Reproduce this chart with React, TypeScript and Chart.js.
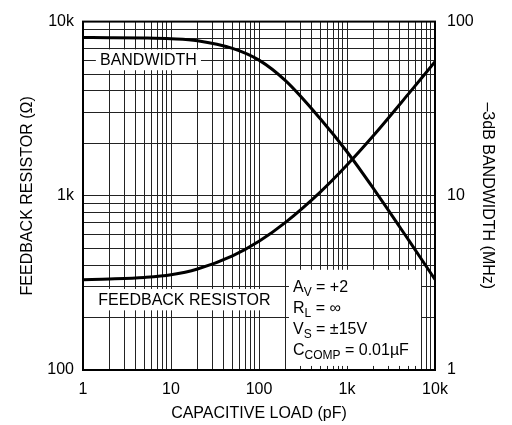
import React, { useEffect, useRef } from "react";
import { Chart, registerables } from "chart.js";

Chart.register(...registerables);

// ---- data ----
const capLoad = [1, 2, 5, 10, 20, 50, 100, 200, 500, 1000, 2000, 5000, 10000];
const feedbackRes = [330, 333, 340, 352, 380, 452, 548, 704, 1054, 1502, 2217, 3847, 5882];
const bandwidthMHz = [81, 80.9, 80.5, 79.7, 77.7, 70.2, 60.1, 45.8, 27.6, 17.9, 11.0, 5.58, 3.31];

const xTickValues = [1, 2, 3, 4, 5, 6, 7, 8, 9, 10, 20, 30, 40, 50, 60, 70, 80, 90, 100, 200, 300, 400, 500, 600, 700, 800, 900, 1000, 2000, 3000, 4000, 5000, 6000, 7000, 8000, 9000, 10000];
const xTickLabels: Record<number, string> = { 1: "1", 10: "10", 100: "100", 1000: "1k", 10000: "10k" };
const yTickValues = [100, 200, 300, 400, 500, 600, 700, 800, 900, 1000, 2000, 3000, 4000, 5000, 6000, 7000, 8000, 9000, 10000];
const yTickLabels: Record<number, string> = { 100: "100", 1000: "1k", 10000: "10k" };
const y2TickValues = [1, 10, 100];
const y2TickLabels: Record<number, string> = { 1: "1", 10: "10", 100: "100" };

const FONT = "'Liberation Sans', Arial, sans-serif";

const annotationPlugin = {
  id: "annot",
  beforeDatasetsDraw(chart: any) {
    const { ctx, scales } = chart;
    const xs = scales.x;
    const ys = scales.y;
    const px = (v: number) => xs.getPixelForValue(v);
    const py = (v: number) => ys.getPixelForValue(v);
    ctx.save();
    ctx.fillStyle = "#fff";
    // BANDWIDTH label box
    ctx.fillRect(px(1.4), py(6925), px(21.9) - px(1.4), py(5257) - py(6925));
    // FEEDBACK RESISTOR label box
    ctx.fillRect(px(1.44), py(292), px(140) - px(1.44), py(220) - py(292));
    // conditions box
    ctx.fillRect(px(219), py(376), px(6935) - px(219), py(105.5) - py(376));

    ctx.fillStyle = "#000";
    ctx.font = `16px ${FONT}`;
    ctx.textBaseline = "middle";
    ctx.textAlign = "center";
    ctx.fillText("BANDWIDTH", (px(1.4) + px(21.9)) / 2, (py(6925) + py(5257)) / 2 + 1);
    ctx.fillText("FEEDBACK RESISTOR", (px(1.44) + px(140)) / 2, (py(292) + py(220)) / 2 + 1);

    ctx.textAlign = "left";
    ctx.textBaseline = "alphabetic";
    const lx = px(219) + 4;
    const lines: [string, string, string][] = [
      ["A", "V", " = +2"],
      ["R", "L", " = \u221E"],
      ["V", "S", " = \u00B115V"],
      ["C", "COMP", " = 0.01\u00B5F"],
    ];
    let by = py(376) + 22;
    for (const [a, sub, rest] of lines) {
      ctx.font = `16px ${FONT}`;
      ctx.fillText(a, lx, by);
      let x = lx + ctx.measureText(a).width;
      ctx.font = `12px ${FONT}`;
      ctx.fillText(sub, x, by + 4);
      x += ctx.measureText(sub).width;
      ctx.font = `16px ${FONT}`;
      ctx.fillText(rest, x, by);
      by += 21;
    }
    ctx.restore();
  },
  afterDraw(chart: any) {
    const { ctx, chartArea } = chart;
    ctx.save();
    ctx.strokeStyle = "#000";
    ctx.lineWidth = 2;
    ctx.strokeRect(chartArea.left, chartArea.top, chartArea.right - chartArea.left, chartArea.bottom - chartArea.top);
    ctx.restore();
  },
};

export default function App() {
  const ref = useRef<HTMLCanvasElement | null>(null);
  useEffect(() => {
    if (!ref.current) return;
    Chart.defaults.color = "#000";
    const chart = new Chart(ref.current, {
      type: "line",
      data: {
        datasets: [
          {
            label: "Feedback Resistor",
            data: capLoad.map((x, i) => ({ x, y: feedbackRes[i] })),
            yAxisID: "y",
            borderColor: "#000",
            borderWidth: 3,
            pointRadius: 0,
            cubicInterpolationMode: "monotone",
          },
          {
            label: "Bandwidth",
            data: capLoad.map((x, i) => ({ x, y: bandwidthMHz[i] })),
            yAxisID: "y2",
            borderColor: "#000",
            borderWidth: 3,
            pointRadius: 0,
            cubicInterpolationMode: "monotone",
          },
        ],
      },
      options: {
        animation: false,
        responsive: false,
        devicePixelRatio: 1,
        layout: { padding: { top: 19, left: 0, right: 0, bottom: 0 } },
        plugins: { legend: { display: false }, tooltip: { enabled: false } },
        scales: {
          x: {
            type: "logarithmic",
            min: 1,
            max: 10000,
            afterBuildTicks: (s: any) => { s.ticks = xTickValues.map((v) => ({ value: v })); },
            afterFit: (s: any) => { s.height = 55; },
            grid: { color: "#222", lineWidth: 1, drawTicks: false },
            border: { display: false },
            ticks: {
              autoSkip: false,
              maxRotation: 0,
              padding: 10,
              font: { family: FONT, size: 16 },
              color: "#000",
              callback: (v: any) => xTickLabels[Number(v)] ?? "",
            },
            title: {
              display: true,
              text: "CAPACITIVE LOAD (pF)",
              font: { family: FONT, size: 16 },
              color: "#000",
              padding: { top: 0, bottom: 2 },
            },
          },
          y: {
            type: "logarithmic",
            position: "left",
            min: 100,
            max: 10000,
            afterBuildTicks: (s: any) => { s.ticks = yTickValues.map((v) => ({ value: v })); },
            afterFit: (s: any) => { s.width = 83; },
            grid: { color: "#222", lineWidth: 1, drawTicks: false },
            border: { display: false },
            ticks: {
              autoSkip: false,
              padding: 9,
              font: { family: FONT, size: 16 },
              color: "#000",
              callback: (v: any) => yTickLabels[Number(v)] ?? "",
            },
            title: {
              display: true,
              text: "FEEDBACK RESISTOR (\u03A9)",
              font: { family: FONT, size: 16 },
              color: "#000",
              padding: { top: 18, bottom: 0 },
            },
          },
          y2: {
            type: "logarithmic",
            position: "right",
            min: 1,
            max: 100,
            afterBuildTicks: (s: any) => { s.ticks = y2TickValues.map((v) => ({ value: v })); },
            afterFit: (s: any) => { s.width = 77; },
            grid: { display: false, drawTicks: false },
            border: { display: false },
            ticks: {
              autoSkip: false,
              padding: 12,
              font: { family: FONT, size: 16 },
              color: "#000",
              callback: (v: any) => y2TickLabels[Number(v)] ?? "",
            },
            title: {
              display: true,
              text: "\u20133dB BANDWIDTH (MHz)",
              font: { family: FONT, size: 16 },
              color: "#000",
              padding: { top: 15, bottom: 0 },
            },
          },
        },
      },
      plugins: [annotationPlugin],
    } as any);
    return () => chart.destroy();
  }, []);
  return (
    <div style={{ position: "absolute", left: 0, top: 0, width: 512, height: 425, background: "#fff" }}>
      <canvas ref={ref} width={512} height={425} style={{ width: 512, height: 425, display: "block" }} />
    </div>
  );
}
